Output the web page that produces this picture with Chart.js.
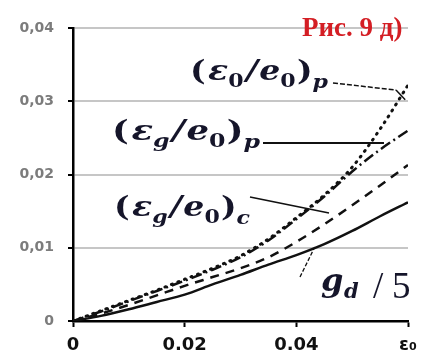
<!DOCTYPE html>
<html>
<head>
<meta charset="utf-8">
<script src="https://cdn.jsdelivr.net/npm/chart.js@4.4.1/dist/chart.umd.min.js"></script>
<style>
  html, body { margin: 0; padding: 0; background: #fff; }
  #wrap { width: 430px; height: 360px; position: relative; }
</style>
</head>
<body>
<div id="wrap"><canvas id="fig"></canvas></div>
<script>
// strain values along the x axis
const xs = [0, 0.005, 0.01, 0.015, 0.02, 0.025, 0.03, 0.035, 0.04, 0.045, 0.05, 0.055, 0.06];
// (eps0/e0)p - dotted
const eps0p = [0, 0.0014, 0.0028, 0.0042, 0.0057, 0.0072, 0.0089, 0.0112, 0.0141, 0.0172, 0.0210, 0.0262, 0.0322];
// (epsg/e0)p - dash-dot
const epsgp = [0, 0.0013, 0.0027, 0.0041, 0.0055, 0.0070, 0.0087, 0.0110, 0.0139, 0.0170, 0.0204, 0.0234, 0.0260];
// (epsg/e0)c - dashed
const epsgc = [0, 0.0010, 0.0022, 0.0035, 0.0048, 0.0060, 0.0072, 0.0087, 0.0108, 0.0132, 0.0158, 0.0185, 0.0213];
// gd/5 - solid
const gd5 = [0, 0.0007, 0.0016, 0.0026, 0.0036, 0.0050, 0.0063, 0.0077, 0.0090, 0.0105, 0.0123, 0.0143, 0.0162];

const xTicks = [0, 0.02, 0.04, 0.06];
const xTickLabels = ['0', '0.02', '0.04', 'ε₀'];
const yTicks = [0, 0.01, 0.02, 0.03, 0.04];

const pts = arr => arr.map((v, i) => ({ x: xs[i], y: v }));

function line(data, dash, width) {
    return {
        data: pts(data),
        borderColor: '#111',
        borderWidth: width,
        borderDash: dash,
        borderCapStyle: dash.length && dash[0] < 2 ? 'round' : 'butt',
        pointRadius: 0,
        fill: false,
        tension: 0.4,
        cubicInterpolationMode: 'monotone'
    };
}

const MATH = '"DejaVu Serif"';

function setFont(ctx, p) {
    ctx.font = `${p.it ? 'italic ' : ''}${p.w === 'n' ? '' : 'bold '}${p.z}px ${p.f || MATH}`;
}

// draw a run of text pieces (main + subscripts), squeezed/stretched to a given width
function drawRun(ctx, x, y, width, parts) {
    let total = 0;
    parts.forEach(p => { setFont(ctx, p); total += ctx.measureText(p.t).width + (p.k || 0); });
    ctx.save();
    ctx.translate(x, y);
    ctx.scale(width / total, 1);
    let cx = 0;
    parts.forEach(p => {
        setFont(ctx, p);
        ctx.fillText(p.t, cx, p.dy || 0);
        cx += ctx.measureText(p.t).width + (p.k || 0);
    });
    ctx.restore();
}

function seg(ctx, x1, y1, x2, y2, w, dash) {
    ctx.save();
    ctx.strokeStyle = '#111';
    ctx.lineWidth = w;
    ctx.setLineDash(dash || []);
    ctx.beginPath();
    ctx.moveTo(x1, y1);
    ctx.lineTo(x2, y2);
    ctx.stroke();
    ctx.restore();
}

function ratio(top, subSym) {
    const M = 27, S = 18;
    return [
        { t: '(', z: M, k: 2 }, { t: 'ε', z: M, it: 1 }, { t: top, z: S, it: top !== '0', dy: 7, k: 2 },
        { t: '/', z: M, it: 1, k: 1 }, { t: 'e', z: M, it: 1 }, { t: '0', z: S, dy: 7, k: 1 },
        { t: ')', z: M }, { t: subSym, z: S, it: 1, dy: 8 }
    ];
}

const labels = {
    id: 'labels',
    afterDraw(chart) {
        const ctx = chart.ctx;
        const sx = chart.scales.x, sy = chart.scales.y;
        ctx.save();
        ctx.textBaseline = 'alphabetic';
        ctx.textAlign = 'left';

        // figure caption
        ctx.fillStyle = '#d41e24';
        ctx.font = 'bold 27px "Liberation Serif"';
        ctx.fillText('Рис. 9 д)', 302, 36);

        ctx.fillStyle = '#15152a';
        drawRun(ctx, 190, 80, 138, ratio('0', 'p'));
        drawRun(ctx, 112, 140, 148, ratio('g', 'p'));
        drawRun(ctx, 114, 216, 136, ratio('g', 'c'));

        // g_d /5
        setFont(ctx, { z: 32, it: 1 });
        ctx.fillText('g', 321, 291);
        setFont(ctx, { z: 21, it: 1 });
        ctx.fillText('d', 344, 298);
        ctx.font = '37px "Liberation Serif"';
        ctx.fillText('/', 373, 298);
        ctx.fillText('5', 392, 298);

        // leader lines, ending on the curves
        seg(ctx, 333, 83, 396, 90, 1.5, [5, 2]);
        seg(ctx, 396, 90, sx.getPixelForValue(0.0595), sy.getPixelForValue(0.0302), 1.5);
        seg(ctx, 263, 143, sx.getPixelForValue(0.0557), 143, 2);
        seg(ctx, 250, 197, 329, 213, 1.5);
        seg(ctx, 300, 277, sx.getPixelForValue(0.0433), sy.getPixelForValue(0.0101), 1.3, [4, 2]);
        ctx.restore();
    }
};

new Chart(document.getElementById('fig'), {
    type: 'line',
    data: {
        datasets: [
            line(eps0p, [1, 6], 3),
            line(epsgp, [11, 4, 2, 4], 2.5),
            line(epsgc, [9, 7], 2.5),
            line(gd5, [], 2.5)
        ]
    },
    options: {
        responsive: true,
        maintainAspectRatio: false,
        animation: false,
        events: [],
        layout: { padding: { top: 28, right: 22, left: 0, bottom: 0 } },
        plugins: {
            legend: { display: false },
            tooltip: { enabled: false }
        },
        scales: {
            x: {
                type: 'linear',
                min: 0,
                max: 0.06,
                afterBuildTicks: s => { s.ticks = xTicks.map(v => ({ value: v })); },
                afterFit: s => { s.height = 39; },
                border: { display: true, color: '#000', width: 2.5 },
                grid: { drawOnChartArea: false, drawTicks: true, tickLength: 6, tickColor: '#000', tickWidth: 2 },
                ticks: {
                    padding: 8,
                    color: '#111',
                    font: { family: 'DejaVu Sans', size: 18, weight: 'bold' },
                    maxRotation: 0,
                    callback: (v, i) => xTickLabels[i]
                }
            },
            y: {
                min: 0,
                max: 0.04,
                afterBuildTicks: s => { s.ticks = yTicks.map(v => ({ value: v })); },
                afterFit: s => { s.width = 73; },
                border: { display: true, color: '#000', width: 2.5 },
                grid: {
                    color: c => c.tick && c.tick.value === 0 ? 'rgba(0,0,0,0)' : '#c6c6c6',
                    lineWidth: 2,
                    drawTicks: true,
                    tickLength: 5,
                    tickColor: '#000',
                    tickWidth: 2
                },
                ticks: {
                    padding: 14,
                    color: '#7c7c7c',
                    font: { family: 'DejaVu Sans', size: 14, weight: 'bold' },
                    callback: v => v === 0 ? '0' : v.toFixed(2).replace('.', ',')
                }
            }
        }
    },
    plugins: [labels]
});
</script>
</body>
</html>
